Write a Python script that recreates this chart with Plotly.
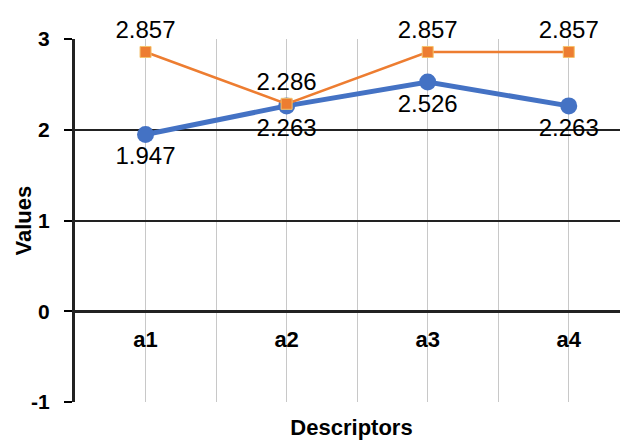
import plotly.graph_objects as go

categories = ["a1", "a2", "a3", "a4"]
series_blue = [1.947, 2.263, 2.526, 2.263]
series_orange = [2.857, 2.286, 2.857, 2.857]
y_ticks = [-1, 0, 1, 2, 3]

xpos = list(range(len(categories)))
FONT = "Liberation Sans, Arial, sans-serif"

fig = go.Figure()
fig.add_trace(go.Scatter(
    x=xpos, y=series_blue, mode="lines+markers+text",
    line=dict(color="#4472C4", width=5),
    marker=dict(symbol="circle", size=17, color="#4472C4"),
    text=[f"{v:.3f}" for v in series_blue], textposition="bottom center",
    textfont=dict(family=FONT, size=24, color="black"),
    cliponaxis=False, showlegend=False,
))
fig.add_trace(go.Scatter(
    x=xpos, y=series_orange, mode="lines+markers+text",
    line=dict(color="#ED7D31", width=2.5),
    marker=dict(symbol="square", size=11, color="#ED7D31",
                line=dict(color="#F5C26B", width=1)),
    text=[f"{v:.3f}" for v in series_orange], textposition="top center",
    textfont=dict(family=FONT, size=24, color="black"),
    cliponaxis=False, showlegend=False,
))
# invisible trace to activate the category label axis
fig.add_trace(go.Scatter(x=xpos, y=[None]*len(xpos), xaxis="x2",
                         showlegend=False, hoverinfo="skip"))

fig.update_layout(
    width=628, height=441,
    margin=dict(l=67, r=8, t=31, b=47),
    paper_bgcolor="white", plot_bgcolor="white",
    font=dict(family=FONT, color="black"),
    xaxis=dict(
        range=[-0.5, 3.42], tick0=-0.5, dtick=0.5,
        showticklabels=False, ticks="",
        showgrid=True, gridcolor="#C8C8C8", gridwidth=1,
        zeroline=False, showline=False,
        title=dict(text="<b>Descriptors</b>", font=dict(size=22), standoff=17),
    ),
    xaxis2=dict(
        overlaying="x", matches="x", anchor="free", position=0.25,
        tickvals=xpos, ticktext=[f"<b>{c}</b>" for c in categories],
        tickfont=dict(size=22), ticks="", ticklabelstandoff=13,
        showgrid=False, zeroline=False, showline=False,
    ),
    yaxis=dict(
        range=[-1, 3], tickvals=y_ticks,
        ticktext=[f"<b>{t}</b>" for t in y_ticks],
        tickfont=dict(size=21), ticks="outside", ticklen=8, tickwidth=2,
        tickcolor="black", ticklabelstandoff=10,
        showgrid=True, gridcolor="#222222", gridwidth=1.5,
        zeroline=True, zerolinecolor="#222222", zerolinewidth=3,
        showline=True, linecolor="#222222", linewidth=3,
    ),
    annotations=[dict(
        text="<b>Values</b>", textangle=-90, font=dict(size=22),
        xref="paper", yref="paper", x=0, y=0.5,
        xanchor="center", yanchor="middle", xshift=-52, showarrow=False,
    )],
)

fig.write_html("out.html")
